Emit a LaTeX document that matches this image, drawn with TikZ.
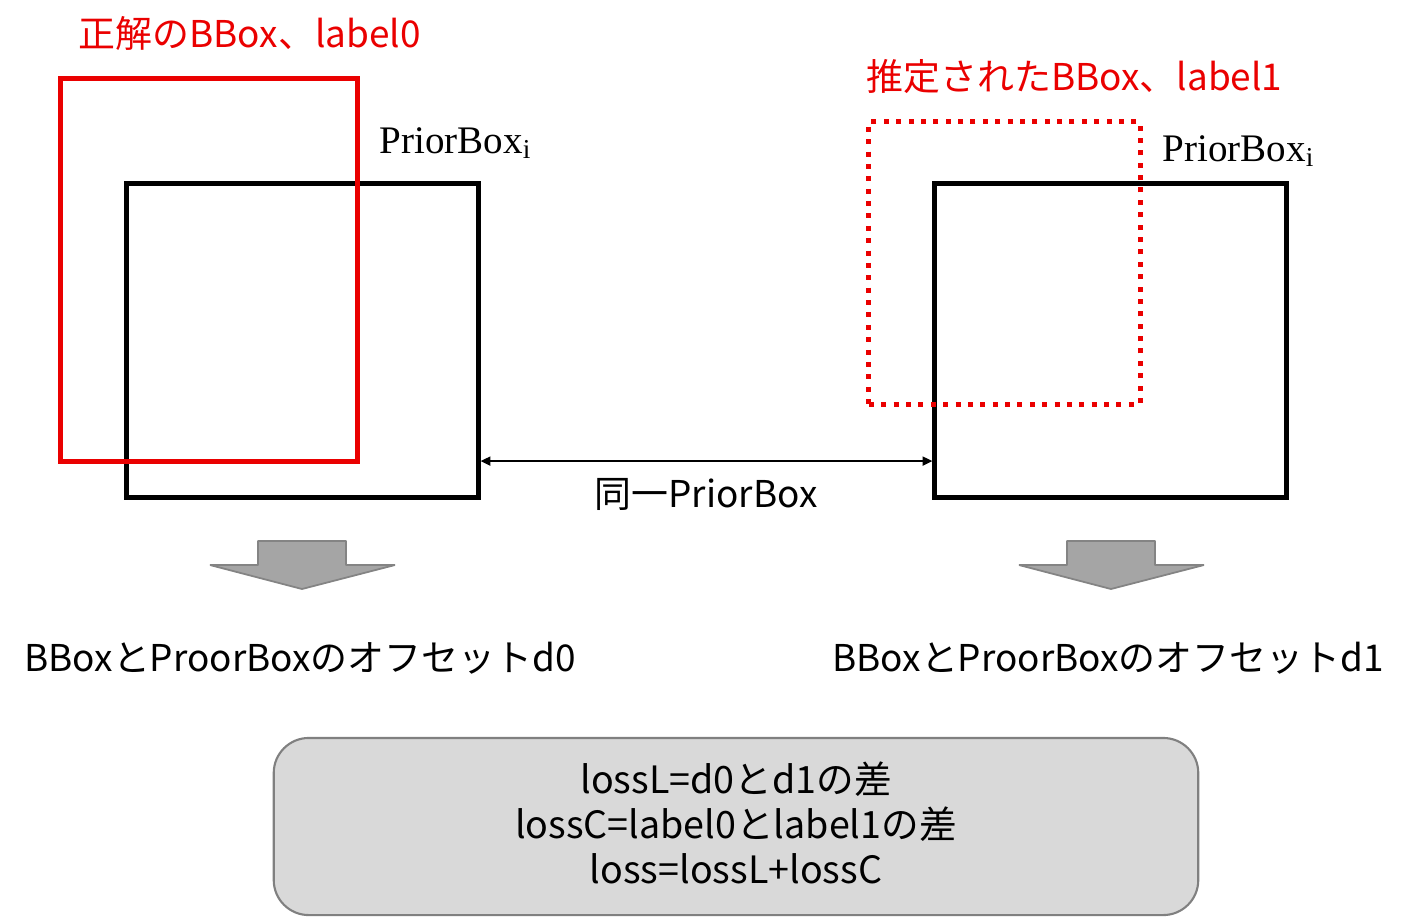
\documentclass[tikz,border=0pt]{standalone}
\usepackage{fontspec}
\setmainfont{Noto Sans CJK JP}
\newfontfamily\priorfont{Liberation Serif}
\usetikzlibrary{arrows.meta}
\definecolor{boxred}{RGB}{234,0,0}
\definecolor{arrowgray}{RGB}{165,165,165}
\definecolor{panelgray}{RGB}{217,217,217}
\tikzset{
  jtext/.style={inner sep=0pt,font=\fontsize{10.5pt}{12.8pt}\selectfont},
  priorbox/.style={draw=black,line width=1.42pt,inner sep=0pt,minimum width=3.51cm,minimum height=3.13cm},
  truebox/.style={draw=boxred,line width=1.42pt,inner sep=0pt},
  guessbox/.style={truebox,dash pattern=on 1.42pt off 2.1pt},
  blockarrow/.style={fill=arrowgray,draw=arrowgray!80!black,line width=0.5pt,line join=bevel},
}
\begin{document}
\begin{tikzpicture}[x=0.01cm,y=-0.01cm]
\useasboundingbox (0,0) rectangle (1408,917);
% boxes
\node[priorbox](lbox) at (302.5, 340.5) {};
\node[priorbox](rbox) at (1110.5, 340.5) {};
\node[truebox,minimum width=2.96cm,minimum height=3.82cm](gt) at (209, 270) {};
\node[guessbox,minimum width=2.71cm,minimum height=2.82cm](est) at (1004.5, 263) {};
% labels
\node[jtext,anchor=west,text=boxred](gtlabel) at (78, 33) {正解のBBox、label0};
\node[jtext,anchor=west,text=boxred](estlabel) at (866, 77) {推定されたBBox、label1};
\node[inner sep=0pt,anchor=base west,font=\fontsize{11.1pt}{12pt}\priorfont](lname) at (379, 153) {PriorBox\textsubscript{i}};
\node[inner sep=0pt,anchor=base west,font=\fontsize{11.1pt}{12pt}\priorfont](rname) at (1162, 161) {PriorBox\textsubscript{i}};
% same prior box
\draw[{Triangle[length=2.8pt,width=2.6pt]}-{Triangle[length=2.8pt,width=2.6pt]},line width=0.4pt]
  ([yshift=0.385cm]lbox.south east) -- ([yshift=0.385cm]rbox.south west);
\node[jtext](same) at (706, 494) {同一PriorBox};
% down arrows
\draw[blockarrow] (258,541) -- ++(88,0) -- ++(0,24) -- ++(49,0) -- ++(-93,24) -- ++(-92,-24) -- ++(48,0) -- cycle;
\draw[blockarrow] (1067,541) -- ++(88,0) -- ++(0,24) -- ++(49,0) -- ++(-93,24) -- ++(-92,-24) -- ++(48,0) -- cycle;
\node[jtext](loff) at (300, 658) {BBoxとProorBoxのオフセットd0};
\node[jtext](roff) at (1108, 658) {BBoxとProorBoxのオフセットd1};
% loss
\node[fill=panelgray,draw=gray,line width=0.6pt,rounded corners=0.35cm,
  minimum width=9.24cm,minimum height=1.77cm](loss) at (736, 826.5) {};
\node[jtext,align=center,font=\fontsize{10.7pt}{12.8pt}\selectfont](losstext) at (736, 823)
  {lossL=d0とd1の差\\lossC=label0とlabel1の差\\loss=lossL+lossC};
\end{tikzpicture}
\end{document}
